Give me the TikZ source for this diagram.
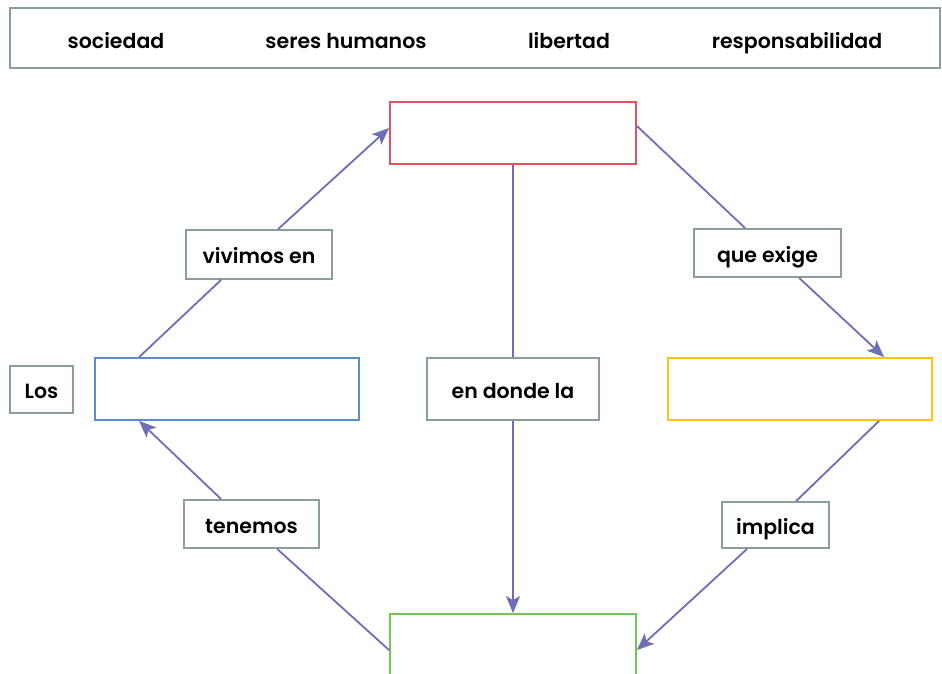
\documentclass[tikz,border=0pt]{standalone}
\usepackage{fontspec}
\setmainfont{Poppins}[BoldFont={Poppins SemiBold}]
\usepackage{tikz}
\usetikzlibrary{arrows.meta}
\definecolor{bankgray}{HTML}{8AA097}
\definecolor{linkblue}{HTML}{6E6EB8}
\definecolor{boxred}{HTML}{E0525C}
\definecolor{boxblue}{HTML}{5A8CD0}
\definecolor{boxyellow}{HTML}{FFC20E}
\definecolor{boxgreen}{HTML}{72C653}
\begin{document}
\begin{tikzpicture}[x=1pt,y=1pt,
    txt/.style={font=\bfseries\fontsize{20.5}{24}\selectfont,text height=21pt,text depth=2pt},
    tag/.style={txt,draw=bankgray,line width=1.8pt,inner sep=0pt,rectangle},
    blank/.style={draw=#1,line width=1.8pt,inner sep=0pt,rectangle,minimum width=246pt,minimum height=62pt},
    link/.style={linkblue,line width=1.8pt},
    arr/.style={link,-{Stealth[length=17pt,width=14pt,inset=4pt]}}]
  \useasboundingbox (0,0) rectangle (942,674);
  \clip (0,0) rectangle (942,674);

  % word bank
  \node[tag,minimum width=930pt,minimum height=60pt] (bank) at (475,636) {};
  \node[txt] (w1) at (116,635) {sociedad};
  \node[txt] (w2) at (346,635) {seres humanos};
  \node[txt] (w3) at (569,635) {libertad};
  \node[txt] (w4) at (797,635) {responsabilidad};

  % empty boxes
  \node[blank=boxred] (red) at (513,541) {};
  \node[blank=boxblue,minimum width=264pt] (blue) at (227,285) {};
  \node[blank=boxyellow,minimum width=264pt] (yellow) at (800,285) {};
  \node[blank=boxgreen,minimum height=80pt] (green) at (513,20) {};

  % linking words
  \node[tag,minimum width=63pt,minimum height=47pt] (los) at (41.5,284.5) {Los};
  \node[tag,minimum width=146pt,minimum height=49pt] (viv) at (259,419.5) {vivimos en};
  \node[tag,minimum width=147pt,minimum height=48pt] (que) at (767.5,421) {que exige};
  \node[tag,minimum width=172pt,minimum height=62pt] (edl) at (513,285) {en donde la};
  \node[tag,minimum width=135pt,minimum height=48pt] (ten) at (251.5,150) {tenemos};
  \node[tag,minimum width=107pt,minimum height=46pt] (imp) at (775.5,149) {implica};

  \draw[link] ([xshift=45pt]blue.north west) -- ([xshift=36pt]viv.south west);
  \draw[arr] ([xshift=93pt]viv.north west) -- ([yshift=5pt]red.west);
  \draw[link] ([yshift=7pt]red.east) -- ([xshift=52pt]que.north west);
  \draw[arr] ([xshift=106pt]que.south west) -- ([xshift=217pt]yellow.north west);
  \draw[link] ([xshift=212pt]yellow.south west) -- ([xshift=75pt]imp.north west);
  \draw[arr] ([xshift=26pt]imp.south west) -- ([yshift=-37pt]green.north east);
  \draw[link] (red.south) -- (edl.north);
  \draw[arr] (edl.south) -- (green.north);
  \draw[link] ([yshift=-37pt]green.north west) -- ([xshift=94pt]ten.south west);
  \draw[arr] ([xshift=38pt]ten.north west) -- ([xshift=45pt]blue.south west);
\end{tikzpicture}
\end{document}
